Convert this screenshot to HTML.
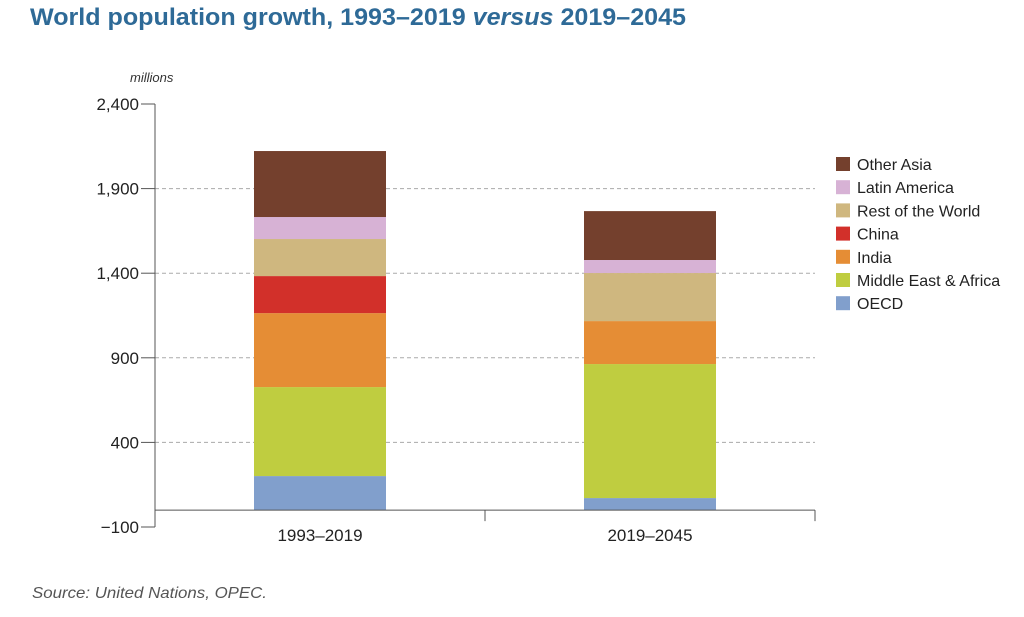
<!DOCTYPE html>
<html><head><meta charset="utf-8"><style>
body{margin:0;background:#fff;width:1024px;height:612px;overflow:hidden;font-family:"Liberation Sans",sans-serif}
</style></head><body>
<svg width="1024" height="612" font-family="Liberation Sans, sans-serif">
<text x="30" y="25" font-size="24" font-weight="bold" fill="#2e6a97" textLength="656" lengthAdjust="spacingAndGlyphs">World population growth, 1993–2019 <tspan font-style="italic">versus</tspan> 2019–2045</text>
<text x="130" y="82" font-size="13" font-style="italic" fill="#333">millions</text>
<g id="grid"></g><g id="bars"></g><g id="axes"></g><g id="legend"></g>
<text x="32" y="598" font-size="16" font-style="italic" fill="#555" textLength="235" lengthAdjust="spacingAndGlyphs">Source: United Nations, OPEC.</text>
</svg>
<script>
const categories=["1993–2019","2019–2045"];
const seriesNames=["OECD","Middle East & Africa","India","China","Rest of the World","Latin America","Other Asia"];
const colors=["#819fcc","#bfcd40","#e58d35","#d2302a","#cfb77f","#d7b2d5","#74402d"];
const oecd=[201,71];
const mea=[526,792];
const india=[437,254];
const china=[219,0];
const rest=[219,284];
const latam=[130,77];
const otherAsia=[390,289];
const yTicks=[-100,400,900,1400,1900,2400];
const tickLabels=["−100","400","900","1,400","1,900","2,400"];
const series=[oecd,mea,india,china,rest,latam,otherAsia];
const NS="http://www.w3.org/2000/svg";
const x0=155,x1=815,yMin=-100,yMax=2400,py0=527,py1=104;
const y=v=>py0-(v-yMin)/(yMax-yMin)*(py0-py1);
const band=(x1-x0)/categories.length;
const bw=132;
function mk(t,a,p){const e=document.createElementNS(NS,t);for(const k in a)e.setAttribute(k,a[k]);p.appendChild(e);return e;}
const grid=document.getElementById('grid'),bars=document.getElementById('bars'),axes=document.getElementById('axes'),leg=document.getElementById('legend');
yTicks.forEach((v,i)=>{
 if(v>0&&v<yMax){const l=mk('line',{x1:x0,x2:x1,y1:y(v),y2:y(v),stroke:'#aaa','stroke-dasharray':'4,3'},grid);
 
 }
 const t=mk('line',{x1:x0-14,x2:x0,y1:y(v),y2:y(v),stroke:'#555'},axes);
 
 
 const tx=mk('text',{x:x0-16,y:y(v)+6,'text-anchor':'end','font-size':17,fill:'#222'},axes);tx.textContent=tickLabels[i];
 
 
});
categories.forEach((c,ci)=>{
 const cx=x0+band*(ci+0.5);let acc=0;
 series.forEach((s,si)=>{const v=s[ci];if(!v)return;
  const r=mk('rect',{x:cx-bw/2,y:y(acc+v),width:bw,height:y(acc)-y(acc+v),fill:colors[si]},bars);
  
  
  acc+=v;});
 const t=mk('text',{x:cx,y:541,'text-anchor':'middle','font-size':17,fill:'#222'},axes);t.textContent=c;
 
 
});
const ya=mk('line',{x1:x0,x2:x0,y1:py1,y2:py0,stroke:'#555'},axes);


const xa=mk('line',{x1:x0,x2:x1,y1:y(0),y2:y(0),stroke:'#555'},axes);


[0,1,2].forEach(i=>{const l=mk('line',{x1:x0+band*i,x2:x0+band*i,y1:y(0),y2:y(0)+11,stroke:'#555'},axes);
 
 });
for(let k=seriesNames.length-1,r=0;k>=0;k--,r++){
 const ly=157+r*23.2;
 const sw=mk('rect',{x:836,y:ly,width:14,height:14,fill:colors[k]},leg);
 
 
 const t=mk('text',{x:857,y:ly+13,'font-size':16,fill:'#222'},leg);t.textContent=seriesNames[k];
 
 
}
</script>
</body></html>
